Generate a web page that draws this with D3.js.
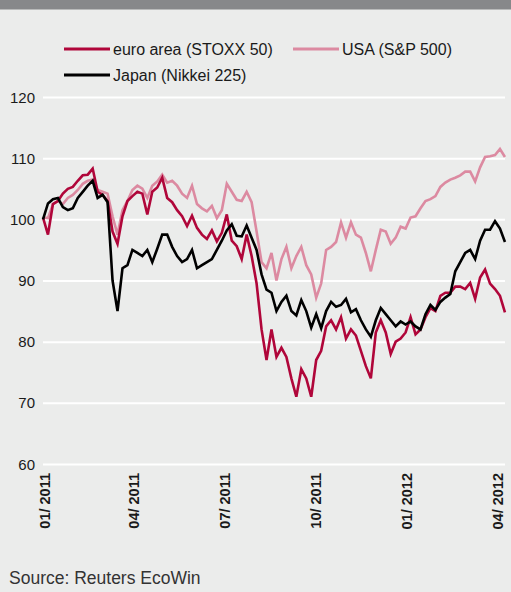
<!DOCTYPE html>
<html><head><meta charset="utf-8">
<script src="https://cdnjs.cloudflare.com/ajax/libs/d3/7.8.5/d3.min.js"></script>
<style>
html,body{margin:0;padding:0;background:#ebeceb;}
svg{display:block;font-family:"Liberation Sans",Arial,Helvetica,sans-serif;}
</style></head>
<body><svg id="chart" width="511" height="592"></svg>
<script>
// ---- data (5-day samples, start 2010-12-31) ----
const startDate = new Date(2010, 11, 31);
const stepDays = 5;
const euroArea = [100.3,97.5,102.5,103,104.2,105,105.3,106.3,107.2,107.3,108.3,104.5,104,103,98,96,
  100.5,103,103.8,104.5,104.2,100.8,104.5,105.2,106.8,103.5,102.8,101.5,100.5,98.9,100.6,98.6,
  97.5,96.8,98.2,96.4,97.8,100.8,96.5,95.6,93.5,97.5,94,89.5,82,77,82,77.5,79,77.5,
  74,71,75.5,74,71,77,78.5,82.5,83.5,82,84,80.5,82,81,78.5,76,74,81.5,83.5,81.5,78,80,
  80.5,81.5,84,81.2,82,84,85.5,85,87.5,88,88,89,89,88.6,89.6,87,90.5,91.8,89.5,88.6,87.5,84.8];
const usa = [100.3,100.2,102.5,103,102.5,103.5,104,104.8,105.8,106.3,106.5,104.8,104.5,104.2,100.5,97.5,
  101.5,103,104.8,105.5,105,103.5,105.5,106.2,107.3,106,106.3,105.5,104.2,103.5,105.5,102.5,
  101.8,101.3,102.2,100.2,101.5,105.8,104.5,103.2,103,104.5,102.8,98,93,92,94.5,90,93.5,95.5,
  92,94,95.5,92.5,91,87.2,89.5,95,95.5,96.3,99.5,97,99.5,97.5,97,94.5,91.5,95,98.3,98,96,97,
  98.8,98.5,100.3,100.5,101.8,103,103.3,103.8,105.3,106,106.5,106.8,107.2,107.8,107.8,106.2,108.5,110.2,110.3,110.5,111.5,110.2];
const japan = [100,102.6,103.3,103.5,102,101.5,101.8,103.5,104.5,105.5,106.3,103.5,104,102.8,90,85,
  92,92.5,95,94.5,94,95,93,95.2,97.5,97.5,95.5,94,93,93.5,95,92,
  92.5,93,93.5,95,96.5,98.2,99.2,97.3,97.2,99,97,95,91,88.5,88,85,86.5,87.5,
  85,84.3,86.8,85,82.3,84.5,82.2,85,86.5,85.7,86,87,84.8,85.3,83.5,82,80.8,83.5,85.5,84.5,83.5,82.5,
  83.3,82.8,83.3,82.5,82,84.5,86,85.2,86.5,87.2,87.8,91.5,93,94.5,95,93.5,96.5,98.3,98.3,99.7,98.5,96.3];
const seriesNames = ["euro area (STOXX 50)", "USA (S&P 500)", "Japan (Nikkei 225)"];
const seriesColors = ["#b0063a", "#dc8aa1", "#000000"];
const yTicks = [60, 70, 80, 90, 100, 110, 120];
const xTickDates = ["2011-01-01","2011-04-01","2011-07-01","2011-10-01","2012-01-01","2012-04-01"];
const xTickLabels = ["01/ 2011","04/ 2011","07/ 2011","10/ 2011","01/ 2012","04/ 2012"];
const sourceText = "Source: Reuters EcoWin";

const dates = euroArea.map((_, i) => d3.timeDay.offset(startDate, i * stepDays));
const allSeries = [euroArea, usa, japan];

const svg = d3.select("#chart");
const W = 511, H = 592;
const plot = {left: 43, right: 505, top: 97, bottom: 464};

svg.append("rect").attr("x",0).attr("y",0).attr("width",W).attr("height",H).attr("fill","#ebeceb");
svg.append("rect").attr("x",0).attr("y",0).attr("width",W).attr("height",9.5).attr("fill","#87888a");

const x = d3.scaleTime()
  .domain([new Date(2011,0,1), new Date(2012,3,1)])
  .range([44, 497]);
const y = d3.scaleLinear().domain([60, 120]).range([plot.bottom, plot.top]);

// y axis + gridlines
const yAxis = svg.append("g").attr("transform", `translate(${plot.left},0)`)
  .call(d3.axisLeft(y).tickValues(yTicks).tickSize(-(plot.right - plot.left)).tickPadding(8).tickFormat(d3.format("d")));
yAxis.select(".domain").remove();
yAxis.selectAll(".tick line").attr("stroke", "#ffffff").attr("stroke-width", 2);
yAxis.selectAll(".tick text").attr("fill", "#1a1a1a").attr("font-size", 15).attr("dy", "0.34em");

// x axis
const xTicks = xTickDates.map(s => { const p = s.split("-"); return new Date(+p[0], +p[1]-1, +p[2]); });
const xAxis = svg.append("g").attr("transform", `translate(0,${plot.bottom})`)
  .call(d3.axisBottom(x).tickValues(xTicks).tickSize(0).tickFormat((d, i) => xTickLabels[i]));
xAxis.select(".domain").remove();
xAxis.selectAll(".tick text")
  .attr("transform", "rotate(-90)")
  .attr("x", -9).attr("y", 0).attr("dy", "0.36em")
  .attr("text-anchor", "end")
  .attr("font-weight", "bold").attr("font-size", 14.5).attr("fill", "#1a1a1a");

// lines
const line = d3.line().x((d, i) => x(dates[i])).y(d => y(d));
[1, 0, 2].forEach(k => {
  svg.append("path").datum(allSeries[k])
    .attr("fill", "none").attr("stroke", seriesColors[k])
    .attr("stroke-width", 2.6).attr("stroke-linejoin", "miter")
    .attr("d", line);
});

// legend
const legendItems = [
  {k: 0, x: 64, y: 49},
  {k: 1, x: 293, y: 49},
  {k: 2, x: 64, y: 75}
];
legendItems.forEach(it => {
  svg.append("line").attr("x1", it.x).attr("x2", it.x + 46).attr("y1", it.y).attr("y2", it.y)
    .attr("stroke", seriesColors[it.k]).attr("stroke-width", 3);
  svg.append("text").attr("x", it.x + 49).attr("y", it.y).attr("dy", "0.35em")
    .attr("font-size", 16).attr("fill", "#1a1a1a").text(seriesNames[it.k]);
});

svg.append("text").attr("x", 9).attr("y", 584).attr("font-size", 17.5).attr("fill", "#333333").text(sourceText);
</script></body></html>
